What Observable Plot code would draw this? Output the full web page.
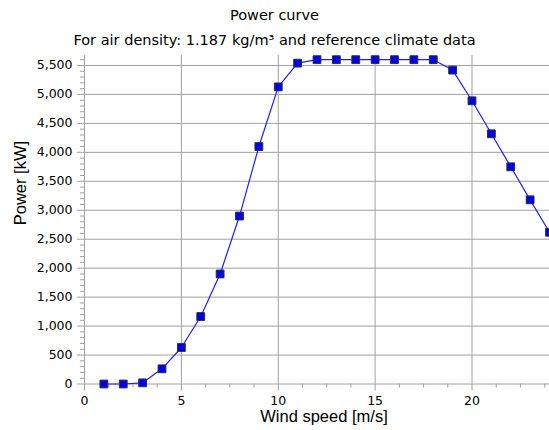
<!DOCTYPE html>
<html>
<head>
<meta charset="utf-8">
<script src="https://cdn.jsdelivr.net/npm/d3@7"></script>
<script src="https://cdn.jsdelivr.net/npm/@observablehq/plot@0.6"></script>
<style>
  html, body { margin: 0; padding: 0; background: #fff; }
  #wrap { width: 549px; height: 430px; overflow: hidden; }
  #title { position: relative; width: 549px; height: 50px; font-family: "DejaVu Sans", sans-serif; color: #000; }
  #title div { position: absolute; left: 0; width: 549px; text-align: center; font-size: 14.5px; line-height: 15px; }
  #t1 { top: 8px; }
  #t2 { top: 33px; }
</style>
</head>
<body>
<div id="wrap">
  <div id="title">
    <div id="t1">Power curve</div>
    <div id="t2">For air density: 1.187 kg/m³ and reference climate data</div>
  </div>
  <div id="chart"></div>
</div>
<script>
const windSpeed = [1, 2, 3, 4, 5, 6, 7, 8, 9, 10, 11, 12, 13, 14, 15, 16, 17, 18, 19, 20, 21, 22, 23, 24];
const power = [0, 0, 20, 262, 630, 1165, 1900, 2900, 4100, 5130, 5540, 5600, 5600, 5600, 5600, 5600, 5600, 5600, 5420, 4890, 4320, 3750, 3180, 2620];
const xMajorTicks = [0, 5, 10, 15, 20];
const yMajorTicks = [0, 500, 1000, 1500, 2000, 2500, 3000, 3500, 4000, 4500, 5000, 5500];
const xMinorTicks = [1.25, 2.5, 3.75, 6.25, 7.5, 8.75, 11.25, 12.5, 13.75, 16.25, 17.5, 18.75, 21.25, 22.5, 23.75];
const yMinorTicks = [100, 200, 300, 400, 600, 700, 800, 900, 1100, 1200, 1300, 1400, 1600, 1700, 1800, 1900, 2100, 2200, 2300, 2400, 2600, 2700, 2800, 2900, 3100, 3200, 3300, 3400, 3600, 3700, 3800, 3900, 4100, 4200, 4300, 4400, 4600, 4700, 4800, 4900, 5100, 5200, 5300, 5400, 5600];
const xLabel = "Wind speed [m/s]";
const yLabel = "Power [kW]";

const data = windSpeed.map((w, i) => ({w, p: power[i]}));
const gray = "#a0a0a0";

const chart = Plot.plot({
  width: 549,
  height: 380,
  marginLeft: 84,
  marginRight: 0,
  marginTop: 5,
  marginBottom: 46.5,
  style: {background: "transparent", fontFamily: "DejaVu Sans, sans-serif", fontSize: "12.5px", color: "#000", overflow: "visible"},
  x: {domain: [0, 24]},
  y: {domain: [0, 5672]},
  marks: [
    Plot.gridX(xMajorTicks.filter(d => d > 0), {stroke: gray, strokeOpacity: 1}),
    Plot.gridY(yMajorTicks.filter(d => d > 0), {stroke: gray, strokeOpacity: 1}),
    Plot.axisY(yMinorTicks, {tickSize: 4, text: null, stroke: gray, label: null}),
    Plot.axisY(yMajorTicks, {tickSize: 7, tickPadding: 5, stroke: gray, tickFormat: d3.format(","), label: null, fill: "#000"}),
    Plot.axisX(xMinorTicks, {tickSize: 4, text: null, stroke: gray, label: null}),
    Plot.axisX(xMajorTicks, {tickSize: 7, tickPadding: 5, stroke: gray, label: null, fill: "#000"}),
    Plot.ruleX([0], {stroke: gray}),
    Plot.ruleY([0], {stroke: gray}),
    Plot.line(data, {x: "w", y: "p", stroke: "#2020f0", strokeWidth: 1.2}),
    Plot.dot(data, {x: "w", y: "p", symbol: "square", r: 4.4, fill: "#0000f0", stroke: "#303030", strokeWidth: 1}),
    Plot.text([xLabel], {frameAnchor: "bottom", dy: 37.5, dx: 7, fontFamily: "Liberation Sans, Arial, sans-serif", fontSize: 16.5, fill: "#000"}),
    Plot.text([yLabel], {frameAnchor: "left", dx: -64, dy: 5.5, rotate: -90, fontFamily: "Liberation Sans, Arial, sans-serif", fontSize: 16.5, fill: "#000"})
  ]
});
document.getElementById("chart").appendChild(chart);
</script>
</body>
</html>
